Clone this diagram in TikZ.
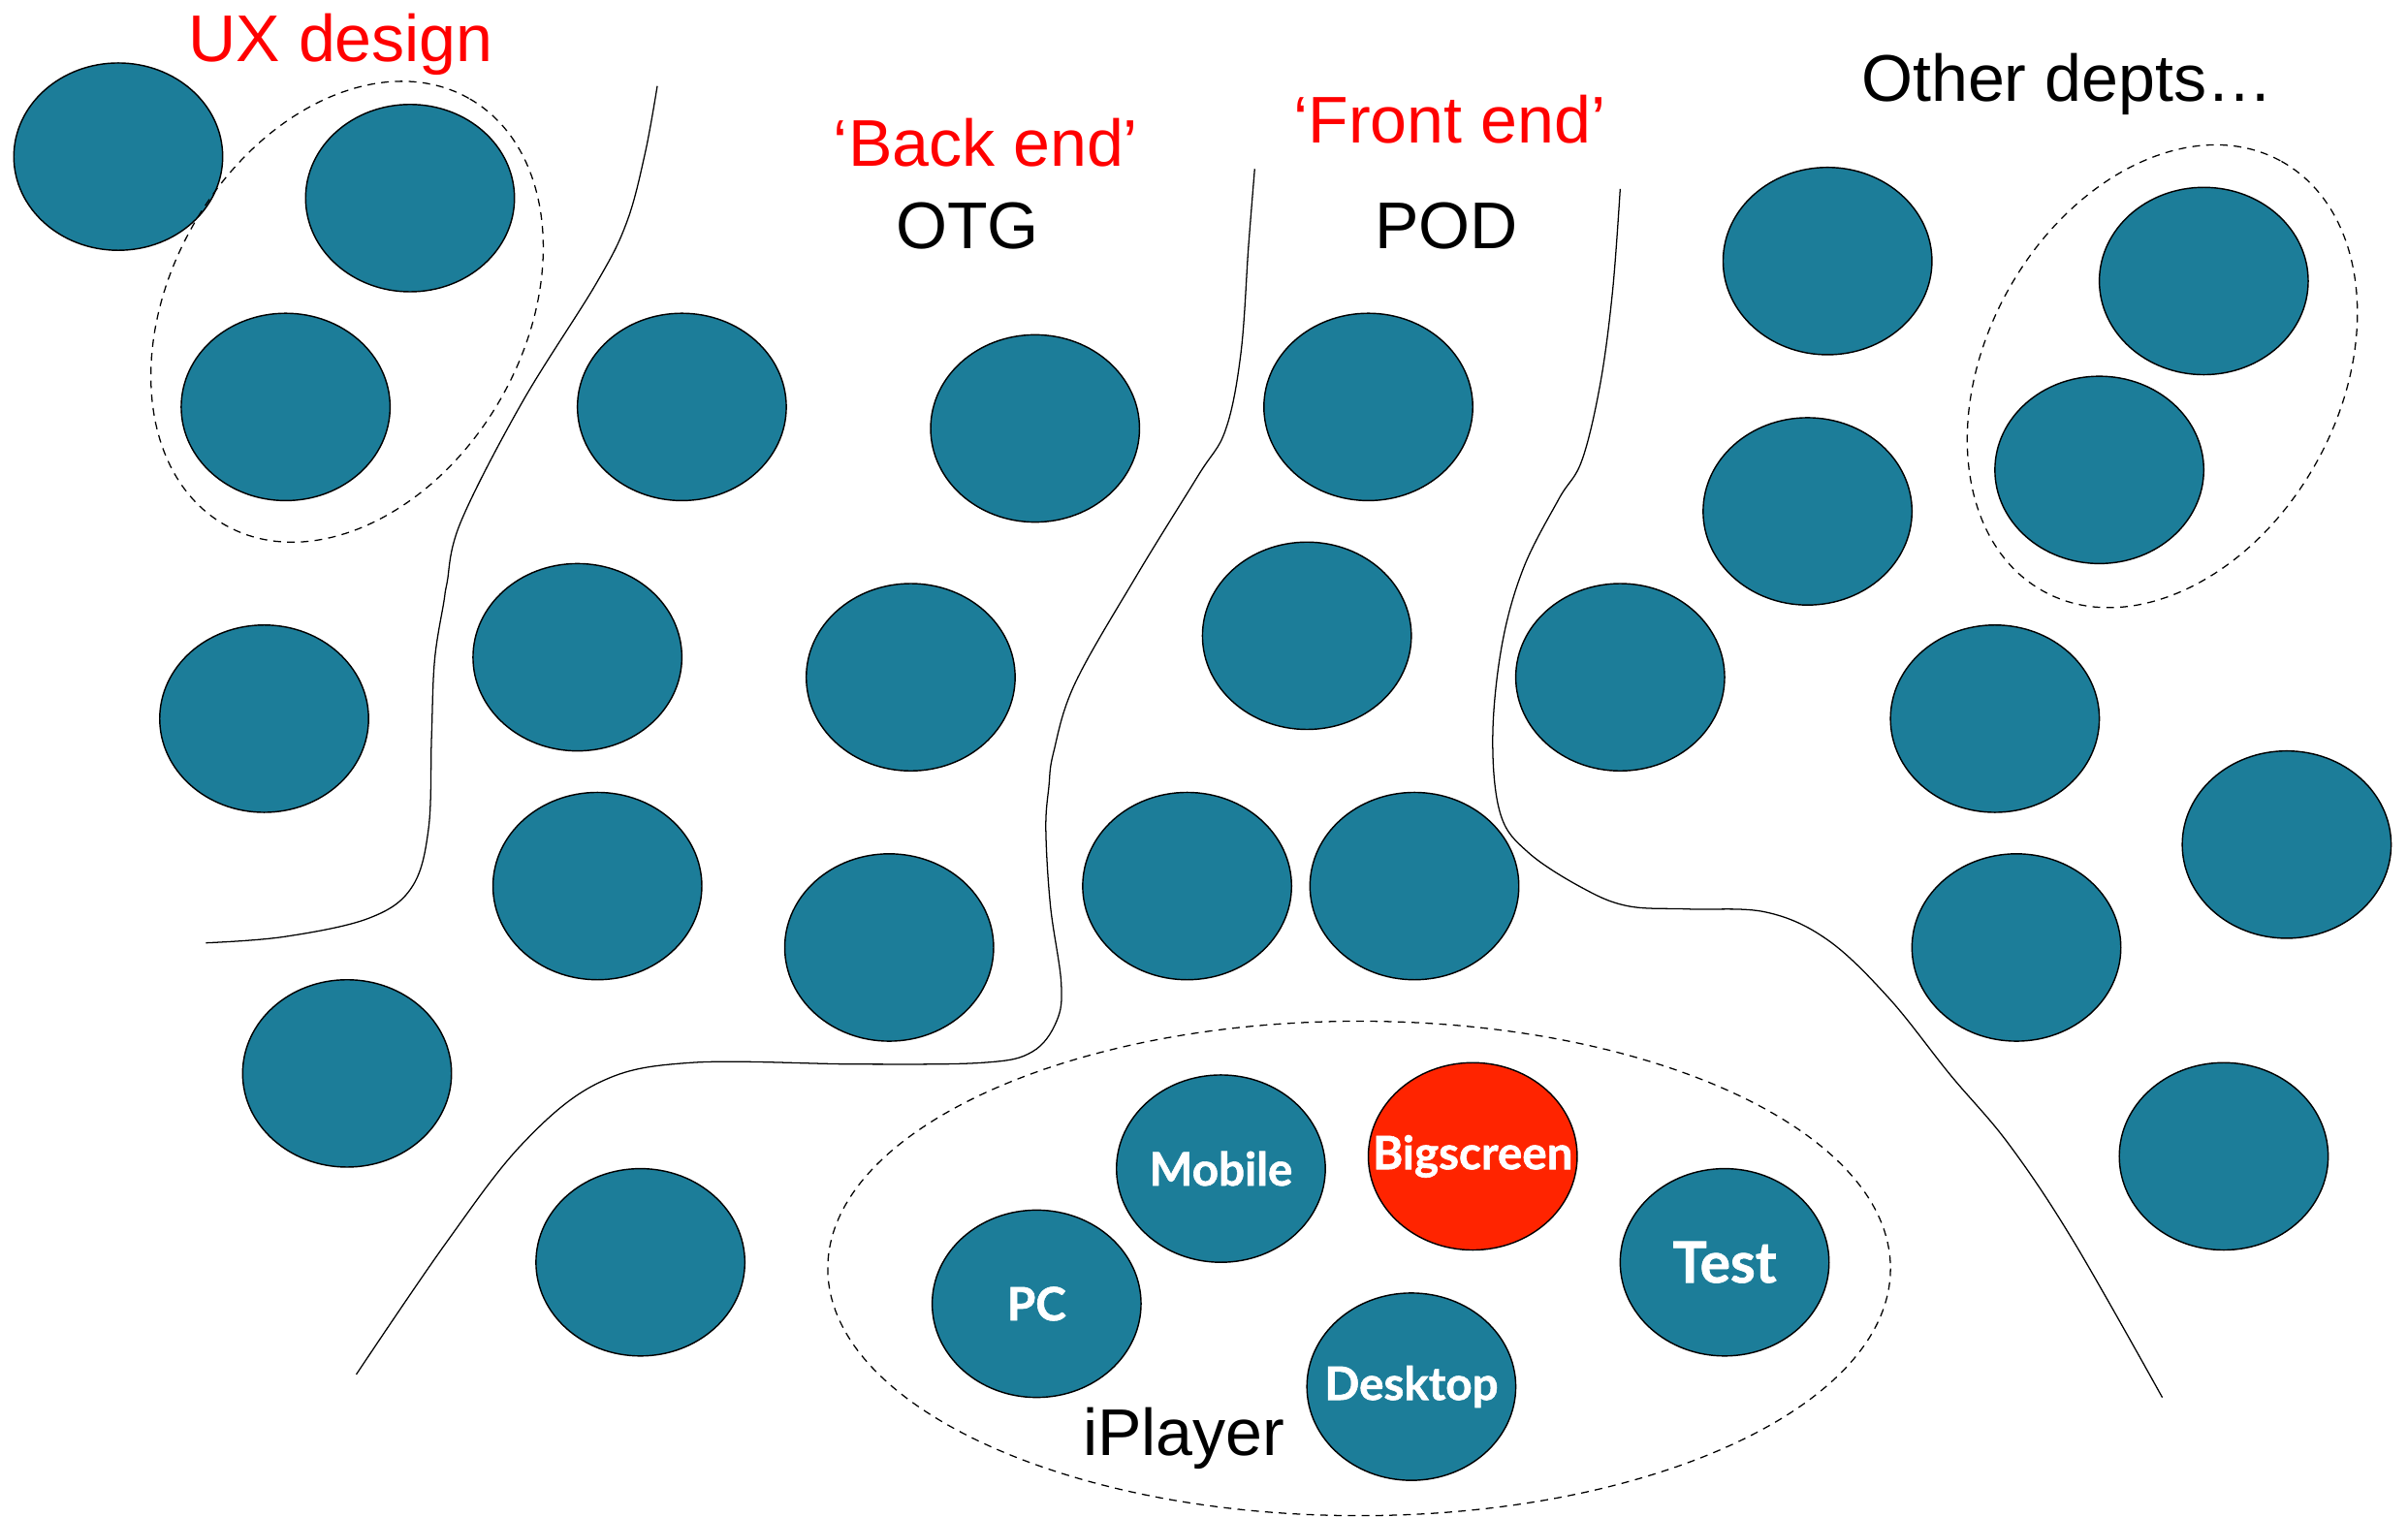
\documentclass[tikz,border=0pt]{standalone}
\usepackage{fontspec}
\setmainfont{Liberation Sans}
\newfontfamily\teamfont{Lato}[BoldFeatures={FakeBold=1.2}]
\usetikzlibrary{shapes.geometric}
\definecolor{petrol}{HTML}{1C7D99}
\definecolor{hotred}{HTML}{FF2400}
\definecolor{labelred}{HTML}{FF0000}
\newcommand{\tname}[1]{\makebox[0pt]{#1}}

\tikzset{
  team/.style={ellipse, draw, line width=0.9pt, fill=petrol, minimum width=136pt,
    minimum height=122pt, inner sep=0pt, text=white,
    font=\teamfont\bfseries\fontsize{30}{30}\selectfont},
  group/.style={draw, dash pattern=on 5pt off 4pt, line width=0.8pt},
  divider/.style={line width=0.8pt},
  dept/.style={anchor=base, inner sep=0pt, font=\fontsize{43}{43}\selectfont}
}

\begin{document}
\begin{tikzpicture}[x=1pt, y=-1pt]
  \useasboundingbox (0,0) rectangle (1568,988);

  % teams
  \foreach \px/\py [count=\i] in {77/102, 267/129, 186/265, 444/265, 674/279, 891/265,
      1190/170, 1435/183, 1367/306, 1177/333, 172/468, 376/428, 593/441, 851/414,
      1055/441, 1299/468, 1489/550, 389/577, 579/617, 773/577, 921/577, 1313/617,
      226/699, 1448/753, 417/822}
    \node[team] (t\i) at (\px,\py) {};

  % iPlayer teams
  \node[team] (mobile) at (795,761) {\tname{Mobile}};
  \node[team, fill=hotred] (bigscreen) at (959,753) {\tname{Bigscreen}};
  \node[team] (pc) at (675,849) {\tname{PC}};
  \node[team, font=\teamfont\bfseries\fontsize{37}{37}\selectfont] (test) at (1123,822) {\tname{Test}};
  \node[team] (desktop) at (919,903) {\tname{Desktop}};

  % groupings
  \draw[group, rotate around={60:(226,203)}] (226,203) ellipse [x radius=160, y radius=115];
  \draw[group, rotate around={61:(1408,245)}] (1408,245) ellipse [x radius=160, y radius=115];
  \draw[group] (885,826) ellipse [x radius=346, y radius=161];

  % boundaries
  \draw[divider] plot[smooth, tension=0.6] coordinates {(428,56) (420,100) (408,145)
    (388,185) (340,262) (300,340) (291,380) (289,392) (283,430) (281,480) (279,540)
    (268,578) (240,598) (185,610) (134,614)};
  \draw[divider] plot[smooth, tension=0.6] coordinates {(817,110) (813,160) (808,230)
    (798,280) (780,310) (740,375) (700,445) (686,490) (683,512) (681,540) (684,590)
    (691,640) (688,665) (672,685) (640,692) (560,693) (450,692) (390,705) (340,745)
    (290,810) (232,895)};
  \draw[divider] plot[smooth, tension=0.6] coordinates {(1055,123) (1050,190)
    (1042,250) (1030,300) (1015,325) (992,370) (978,420) (972,480) (977,530)
    (995,555) (1030,578) (1060,590) (1100,592) (1150,594) (1190,612) (1230,650)
    (1270,700) (1308,745) (1350,808) (1408,910)};

  % labels
  \node[dept, text=labelred] (ux) at (222,40) {UX design};
  \node[dept, text=labelred] (backend) at (642,108) {‘Back end’};
  \node[dept] (otg) at (630,162) {OTG};
  \node[dept, text=labelred] (frontend) at (944,93) {‘Front end’};
  \node[dept] (pod) at (942,162) {POD};
  \node[dept] (other) at (1346,66) {Other depts…};
  \node[dept] (iplayer) at (771,948) {iPlayer};
\end{tikzpicture}
\end{document}
